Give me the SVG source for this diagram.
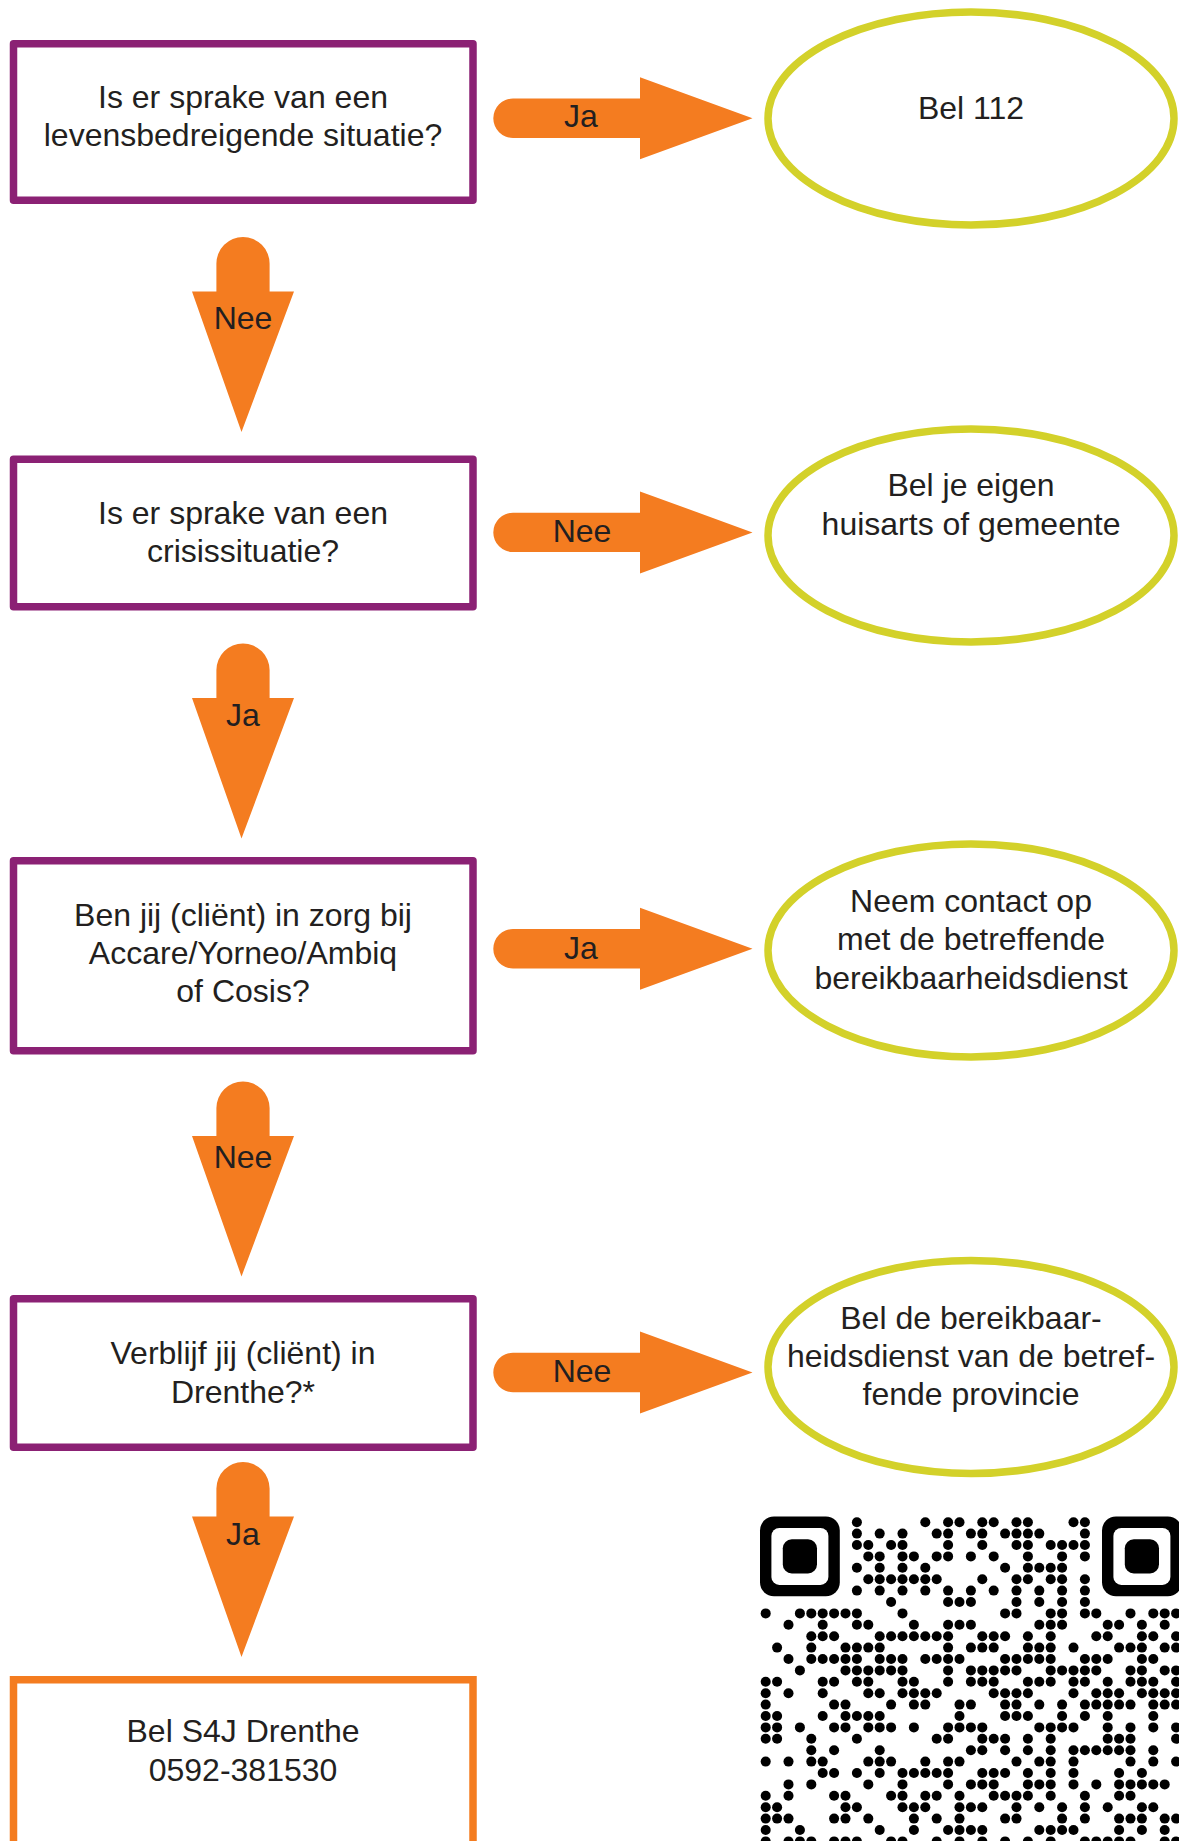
<svg xmlns="http://www.w3.org/2000/svg" xmlns:xlink="http://www.w3.org/1999/xlink" width="1179" height="1841" viewBox="0 0 1179 1841">
<style>
text{font-family:"Liberation Sans",Arial,sans-serif;font-size:32px;fill:#231f20;text-anchor:middle}
.box{fill:#fff;stroke:#8b2174;stroke-width:7.5;stroke-linejoin:round}
.end{fill:#fff;stroke:#f47c20;stroke-width:7.5}
.ell{fill:#fff;stroke:#d3d12a;stroke-width:7.5}
.arr{fill:#f47c20}
</style>
<defs>
<path id="ha" class="arr" d="M640,-41 L752.5,0 L640,41 V19.7 H513 A19.7,19.7 0 0 1 513,-19.7 H640 Z"/>
<path id="va" class="arr" d="M-51,54.5 H-26.6 V26.6 A26.6,26.6 0 0 1 26.6,26.6 V54.5 H51 L-1.5,195 Z"/>
</defs>
<rect width="1179" height="1841" fill="#fff"/>

<g id="connectors">
<use href="#ha" y="118.3"/>
<use href="#ha" y="532.4"/>
<use href="#ha" y="948.8"/>
<use href="#ha" y="1372.5"/>
<use href="#va" x="243" y="237"/>
<use href="#va" x="243" y="643.5"/>
<use href="#va" x="243" y="1081.5"/>
<use href="#va" x="243" y="1462"/>
<text x="581" y="127">Ja</text>
<text x="582" y="542">Nee</text>
<text x="581" y="959">Ja</text>
<text x="582" y="1382">Nee</text>
<text x="243" y="328.5">Nee</text>
<text x="243" y="726">Ja</text>
<text x="243" y="1168">Nee</text>
<text x="243" y="1545">Ja</text>
</g>

<g id="q1">
<rect class="box" x="13.5" y="43.75" width="459.5" height="156.5"/>
<text><tspan x="243" y="108.3">Is er sprake van een</tspan><tspan x="243" y="146">levensbedreigende situatie?</tspan></text>
</g>
<g id="q2">
<rect class="box" x="13.5" y="459.25" width="459.5" height="147.5"/>
<text><tspan x="243" y="524">Is er sprake van een</tspan><tspan x="243" y="562">crisissituatie?</tspan></text>
</g>
<g id="q3">
<rect class="box" x="13.5" y="860.75" width="459.5" height="190"/>
<text><tspan x="243" y="925.5">Ben jij (cliënt) in zorg bij</tspan><tspan x="243" y="963.5">Accare/Yorneo/Ambiq</tspan><tspan x="243" y="1001.5">of Cosis?</tspan></text>
</g>
<g id="q4">
<rect class="box" x="13.5" y="1298.75" width="459.5" height="148.5"/>
<text><tspan x="243" y="1364">Verblijf jij (cliënt) in</tspan><tspan x="243" y="1402.5">Drenthe?*</tspan></text>
</g>
<g id="s4j">
<rect class="end" x="13.5" y="1679.75" width="459.5" height="300"/>
<text><tspan x="243" y="1741.5">Bel S4J Drenthe</tspan><tspan x="243" y="1780.5">0592-381530</tspan></text>
</g>

<g id="e1">
<ellipse class="ell" cx="971" cy="118.5" rx="203" ry="106.5"/>
<text x="971" y="119">Bel 112</text>
</g>
<g id="e2">
<ellipse class="ell" cx="971" cy="535.5" rx="203" ry="106.5"/>
<text><tspan x="971" y="496">Bel je eigen</tspan><tspan x="971" y="534.5">huisarts of gemeente</tspan></text>
</g>
<g id="e3">
<ellipse class="ell" cx="971" cy="950.5" rx="203" ry="106.5"/>
<text><tspan x="971" y="912">Neem contact op</tspan><tspan x="971" y="950">met de betreffende</tspan><tspan x="971" y="988.5">bereikbaarheidsdienst</tspan></text>
</g>
<g id="e4">
<ellipse class="ell" cx="971" cy="1367" rx="203" ry="106.5"/>
<text><tspan x="971" y="1328.5">Bel de bereikbaar-</tspan><tspan x="971" y="1367">heidsdienst van de betref-</tspan><tspan x="971" y="1405">fende provincie</tspan></text>
</g>

<g id="qr">
<rect x="760" y="1516.5" width="79.8" height="79.8" rx="14" fill="#000"/>
<rect x="771.4" y="1527.9" width="57" height="57" rx="8" fill="#fff"/>
<rect x="782.8" y="1539.3" width="34.2" height="34.2" rx="9" fill="#000"/>
<rect x="1102" y="1516.5" width="79.8" height="79.8" rx="14" fill="#000"/>
<rect x="1113.4" y="1527.9" width="57" height="57" rx="8" fill="#fff"/>
<rect x="1124.8" y="1539.3" width="34.2" height="34.2" rx="9" fill="#000"/>
<g transform="translate(765.7,1522.2) scale(11.4)" fill="#000">
<circle cx="8" cy="0" r=".44"/><circle cx="14" cy="0" r=".44"/><circle cx="16" cy="0" r=".44"/><circle cx="17" cy="0" r=".44"/><circle cx="19" cy="0" r=".44"/><circle cx="20" cy="0" r=".44"/><circle cx="22" cy="0" r=".44"/><circle cx="23" cy="0" r=".44"/><circle cx="27" cy="0" r=".44"/><circle cx="28" cy="0" r=".44"/>
<circle cx="8" cy="1" r=".44"/><circle cx="10" cy="1" r=".44"/><circle cx="12" cy="1" r=".44"/><circle cx="15" cy="1" r=".44"/><circle cx="16" cy="1" r=".44"/><circle cx="18" cy="1" r=".44"/><circle cx="19" cy="1" r=".44"/><circle cx="21" cy="1" r=".44"/><circle cx="22" cy="1" r=".44"/><circle cx="23" cy="1" r=".44"/><circle cx="24" cy="1" r=".44"/><circle cx="28" cy="1" r=".44"/>
<circle cx="8" cy="2" r=".44"/><circle cx="9" cy="2" r=".44"/><circle cx="11" cy="2" r=".44"/><circle cx="12" cy="2" r=".44"/><circle cx="16" cy="2" r=".44"/><circle cx="19" cy="2" r=".44"/><circle cx="22" cy="2" r=".44"/><circle cx="23" cy="2" r=".44"/><circle cx="25" cy="2" r=".44"/><circle cx="26" cy="2" r=".44"/><circle cx="27" cy="2" r=".44"/><circle cx="28" cy="2" r=".44"/>
<circle cx="9" cy="3" r=".44"/><circle cx="10" cy="3" r=".44"/><circle cx="12" cy="3" r=".44"/><circle cx="13" cy="3" r=".44"/><circle cx="15" cy="3" r=".44"/><circle cx="16" cy="3" r=".44"/><circle cx="18" cy="3" r=".44"/><circle cx="20" cy="3" r=".44"/><circle cx="23" cy="3" r=".44"/><circle cx="26" cy="3" r=".44"/><circle cx="28" cy="3" r=".44"/>
<circle cx="8" cy="4" r=".44"/><circle cx="10" cy="4" r=".44"/><circle cx="12" cy="4" r=".44"/><circle cx="14" cy="4" r=".44"/><circle cx="21" cy="4" r=".44"/><circle cx="23" cy="4" r=".44"/><circle cx="24" cy="4" r=".44"/><circle cx="25" cy="4" r=".44"/><circle cx="26" cy="4" r=".44"/>
<circle cx="9" cy="5" r=".44"/><circle cx="10" cy="5" r=".44"/><circle cx="11" cy="5" r=".44"/><circle cx="12" cy="5" r=".44"/><circle cx="13" cy="5" r=".44"/><circle cx="14" cy="5" r=".44"/><circle cx="15" cy="5" r=".44"/><circle cx="19" cy="5" r=".44"/><circle cx="22" cy="5" r=".44"/><circle cx="23" cy="5" r=".44"/><circle cx="25" cy="5" r=".44"/><circle cx="26" cy="5" r=".44"/><circle cx="28" cy="5" r=".44"/>
<circle cx="8" cy="6" r=".44"/><circle cx="10" cy="6" r=".44"/><circle cx="12" cy="6" r=".44"/><circle cx="14" cy="6" r=".44"/><circle cx="16" cy="6" r=".44"/><circle cx="18" cy="6" r=".44"/><circle cx="20" cy="6" r=".44"/><circle cx="22" cy="6" r=".44"/><circle cx="24" cy="6" r=".44"/><circle cx="26" cy="6" r=".44"/><circle cx="28" cy="6" r=".44"/>
<circle cx="11" cy="7" r=".44"/><circle cx="16" cy="7" r=".44"/><circle cx="17" cy="7" r=".44"/><circle cx="18" cy="7" r=".44"/><circle cx="22" cy="7" r=".44"/><circle cx="24" cy="7" r=".44"/><circle cx="26" cy="7" r=".44"/><circle cx="28" cy="7" r=".44"/>
<circle cx="0" cy="8" r=".44"/><circle cx="3" cy="8" r=".44"/><circle cx="4" cy="8" r=".44"/><circle cx="5" cy="8" r=".44"/><circle cx="6" cy="8" r=".44"/><circle cx="7" cy="8" r=".44"/><circle cx="8" cy="8" r=".44"/><circle cx="12" cy="8" r=".44"/><circle cx="21" cy="8" r=".44"/><circle cx="22" cy="8" r=".44"/><circle cx="25" cy="8" r=".44"/><circle cx="26" cy="8" r=".44"/><circle cx="28" cy="8" r=".44"/><circle cx="29" cy="8" r=".44"/><circle cx="32" cy="8" r=".44"/><circle cx="34" cy="8" r=".44"/><circle cx="35" cy="8" r=".44"/><circle cx="36" cy="8" r=".44"/>
<circle cx="2" cy="9" r=".44"/><circle cx="5" cy="9" r=".44"/><circle cx="8" cy="9" r=".44"/><circle cx="9" cy="9" r=".44"/><circle cx="13" cy="9" r=".44"/><circle cx="16" cy="9" r=".44"/><circle cx="17" cy="9" r=".44"/><circle cx="18" cy="9" r=".44"/><circle cx="24" cy="9" r=".44"/><circle cx="25" cy="9" r=".44"/><circle cx="26" cy="9" r=".44"/><circle cx="30" cy="9" r=".44"/><circle cx="31" cy="9" r=".44"/><circle cx="33" cy="9" r=".44"/><circle cx="35" cy="9" r=".44"/>
<circle cx="4" cy="10" r=".44"/><circle cx="5" cy="10" r=".44"/><circle cx="6" cy="10" r=".44"/><circle cx="10" cy="10" r=".44"/><circle cx="11" cy="10" r=".44"/><circle cx="12" cy="10" r=".44"/><circle cx="13" cy="10" r=".44"/><circle cx="14" cy="10" r=".44"/><circle cx="15" cy="10" r=".44"/><circle cx="16" cy="10" r=".44"/><circle cx="19" cy="10" r=".44"/><circle cx="20" cy="10" r=".44"/><circle cx="21" cy="10" r=".44"/><circle cx="23" cy="10" r=".44"/><circle cx="25" cy="10" r=".44"/><circle cx="29" cy="10" r=".44"/><circle cx="30" cy="10" r=".44"/><circle cx="33" cy="10" r=".44"/><circle cx="34" cy="10" r=".44"/><circle cx="36" cy="10" r=".44"/>
<circle cx="1" cy="11" r=".44"/><circle cx="4" cy="11" r=".44"/><circle cx="7" cy="11" r=".44"/><circle cx="8" cy="11" r=".44"/><circle cx="9" cy="11" r=".44"/><circle cx="10" cy="11" r=".44"/><circle cx="16" cy="11" r=".44"/><circle cx="18" cy="11" r=".44"/><circle cx="19" cy="11" r=".44"/><circle cx="20" cy="11" r=".44"/><circle cx="23" cy="11" r=".44"/><circle cx="24" cy="11" r=".44"/><circle cx="25" cy="11" r=".44"/><circle cx="27" cy="11" r=".44"/><circle cx="31" cy="11" r=".44"/><circle cx="32" cy="11" r=".44"/><circle cx="33" cy="11" r=".44"/><circle cx="35" cy="11" r=".44"/><circle cx="36" cy="11" r=".44"/>
<circle cx="2" cy="12" r=".44"/><circle cx="4" cy="12" r=".44"/><circle cx="5" cy="12" r=".44"/><circle cx="6" cy="12" r=".44"/><circle cx="7" cy="12" r=".44"/><circle cx="8" cy="12" r=".44"/><circle cx="10" cy="12" r=".44"/><circle cx="11" cy="12" r=".44"/><circle cx="12" cy="12" r=".44"/><circle cx="14" cy="12" r=".44"/><circle cx="15" cy="12" r=".44"/><circle cx="16" cy="12" r=".44"/><circle cx="17" cy="12" r=".44"/><circle cx="21" cy="12" r=".44"/><circle cx="22" cy="12" r=".44"/><circle cx="23" cy="12" r=".44"/><circle cx="24" cy="12" r=".44"/><circle cx="25" cy="12" r=".44"/><circle cx="28" cy="12" r=".44"/><circle cx="29" cy="12" r=".44"/><circle cx="30" cy="12" r=".44"/><circle cx="33" cy="12" r=".44"/><circle cx="34" cy="12" r=".44"/>
<circle cx="3" cy="13" r=".44"/><circle cx="7" cy="13" r=".44"/><circle cx="8" cy="13" r=".44"/><circle cx="9" cy="13" r=".44"/><circle cx="10" cy="13" r=".44"/><circle cx="11" cy="13" r=".44"/><circle cx="12" cy="13" r=".44"/><circle cx="16" cy="13" r=".44"/><circle cx="18" cy="13" r=".44"/><circle cx="19" cy="13" r=".44"/><circle cx="20" cy="13" r=".44"/><circle cx="21" cy="13" r=".44"/><circle cx="22" cy="13" r=".44"/><circle cx="25" cy="13" r=".44"/><circle cx="26" cy="13" r=".44"/><circle cx="27" cy="13" r=".44"/><circle cx="28" cy="13" r=".44"/><circle cx="29" cy="13" r=".44"/><circle cx="32" cy="13" r=".44"/><circle cx="33" cy="13" r=".44"/><circle cx="35" cy="13" r=".44"/><circle cx="36" cy="13" r=".44"/>
<circle cx="0" cy="14" r=".44"/><circle cx="1" cy="14" r=".44"/><circle cx="5" cy="14" r=".44"/><circle cx="6" cy="14" r=".44"/><circle cx="8" cy="14" r=".44"/><circle cx="9" cy="14" r=".44"/><circle cx="12" cy="14" r=".44"/><circle cx="13" cy="14" r=".44"/><circle cx="16" cy="14" r=".44"/><circle cx="18" cy="14" r=".44"/><circle cx="19" cy="14" r=".44"/><circle cx="20" cy="14" r=".44"/><circle cx="23" cy="14" r=".44"/><circle cx="24" cy="14" r=".44"/><circle cx="25" cy="14" r=".44"/><circle cx="27" cy="14" r=".44"/><circle cx="28" cy="14" r=".44"/><circle cx="30" cy="14" r=".44"/><circle cx="32" cy="14" r=".44"/><circle cx="33" cy="14" r=".44"/><circle cx="34" cy="14" r=".44"/><circle cx="36" cy="14" r=".44"/>
<circle cx="0" cy="15" r=".44"/><circle cx="2" cy="15" r=".44"/><circle cx="5" cy="15" r=".44"/><circle cx="9" cy="15" r=".44"/><circle cx="10" cy="15" r=".44"/><circle cx="12" cy="15" r=".44"/><circle cx="13" cy="15" r=".44"/><circle cx="14" cy="15" r=".44"/><circle cx="15" cy="15" r=".44"/><circle cx="20" cy="15" r=".44"/><circle cx="21" cy="15" r=".44"/><circle cx="22" cy="15" r=".44"/><circle cx="23" cy="15" r=".44"/><circle cx="27" cy="15" r=".44"/><circle cx="29" cy="15" r=".44"/><circle cx="30" cy="15" r=".44"/><circle cx="31" cy="15" r=".44"/><circle cx="33" cy="15" r=".44"/><circle cx="34" cy="15" r=".44"/><circle cx="35" cy="15" r=".44"/><circle cx="36" cy="15" r=".44"/>
<circle cx="0" cy="16" r=".44"/><circle cx="6" cy="16" r=".44"/><circle cx="7" cy="16" r=".44"/><circle cx="11" cy="16" r=".44"/><circle cx="13" cy="16" r=".44"/><circle cx="14" cy="16" r=".44"/><circle cx="17" cy="16" r=".44"/><circle cx="18" cy="16" r=".44"/><circle cx="21" cy="16" r=".44"/><circle cx="22" cy="16" r=".44"/><circle cx="24" cy="16" r=".44"/><circle cx="26" cy="16" r=".44"/><circle cx="28" cy="16" r=".44"/><circle cx="29" cy="16" r=".44"/><circle cx="30" cy="16" r=".44"/><circle cx="31" cy="16" r=".44"/><circle cx="32" cy="16" r=".44"/><circle cx="34" cy="16" r=".44"/><circle cx="35" cy="16" r=".44"/><circle cx="36" cy="16" r=".44"/>
<circle cx="0" cy="17" r=".44"/><circle cx="1" cy="17" r=".44"/><circle cx="5" cy="17" r=".44"/><circle cx="7" cy="17" r=".44"/><circle cx="8" cy="17" r=".44"/><circle cx="9" cy="17" r=".44"/><circle cx="10" cy="17" r=".44"/><circle cx="17" cy="17" r=".44"/><circle cx="21" cy="17" r=".44"/><circle cx="22" cy="17" r=".44"/><circle cx="23" cy="17" r=".44"/><circle cx="26" cy="17" r=".44"/><circle cx="28" cy="17" r=".44"/><circle cx="30" cy="17" r=".44"/><circle cx="34" cy="17" r=".44"/>
<circle cx="0" cy="18" r=".44"/><circle cx="1" cy="18" r=".44"/><circle cx="3" cy="18" r=".44"/><circle cx="6" cy="18" r=".44"/><circle cx="7" cy="18" r=".44"/><circle cx="9" cy="18" r=".44"/><circle cx="10" cy="18" r=".44"/><circle cx="11" cy="18" r=".44"/><circle cx="13" cy="18" r=".44"/><circle cx="16" cy="18" r=".44"/><circle cx="17" cy="18" r=".44"/><circle cx="18" cy="18" r=".44"/><circle cx="19" cy="18" r=".44"/><circle cx="24" cy="18" r=".44"/><circle cx="25" cy="18" r=".44"/><circle cx="26" cy="18" r=".44"/><circle cx="27" cy="18" r=".44"/><circle cx="30" cy="18" r=".44"/><circle cx="32" cy="18" r=".44"/><circle cx="34" cy="18" r=".44"/><circle cx="36" cy="18" r=".44"/>
<circle cx="0" cy="19" r=".44"/><circle cx="1" cy="19" r=".44"/><circle cx="4" cy="19" r=".44"/><circle cx="8" cy="19" r=".44"/><circle cx="15" cy="19" r=".44"/><circle cx="16" cy="19" r=".44"/><circle cx="19" cy="19" r=".44"/><circle cx="20" cy="19" r=".44"/><circle cx="21" cy="19" r=".44"/><circle cx="23" cy="19" r=".44"/><circle cx="25" cy="19" r=".44"/><circle cx="30" cy="19" r=".44"/><circle cx="31" cy="19" r=".44"/><circle cx="32" cy="19" r=".44"/><circle cx="36" cy="19" r=".44"/>
<circle cx="4" cy="20" r=".44"/><circle cx="6" cy="20" r=".44"/><circle cx="10" cy="20" r=".44"/><circle cx="18" cy="20" r=".44"/><circle cx="19" cy="20" r=".44"/><circle cx="21" cy="20" r=".44"/><circle cx="23" cy="20" r=".44"/><circle cx="25" cy="20" r=".44"/><circle cx="27" cy="20" r=".44"/><circle cx="28" cy="20" r=".44"/><circle cx="29" cy="20" r=".44"/><circle cx="30" cy="20" r=".44"/><circle cx="31" cy="20" r=".44"/><circle cx="32" cy="20" r=".44"/><circle cx="34" cy="20" r=".44"/>
<circle cx="0" cy="21" r=".44"/><circle cx="2" cy="21" r=".44"/><circle cx="4" cy="21" r=".44"/><circle cx="5" cy="21" r=".44"/><circle cx="9" cy="21" r=".44"/><circle cx="10" cy="21" r=".44"/><circle cx="11" cy="21" r=".44"/><circle cx="14" cy="21" r=".44"/><circle cx="16" cy="21" r=".44"/><circle cx="17" cy="21" r=".44"/><circle cx="22" cy="21" r=".44"/><circle cx="24" cy="21" r=".44"/><circle cx="25" cy="21" r=".44"/><circle cx="27" cy="21" r=".44"/><circle cx="32" cy="21" r=".44"/><circle cx="34" cy="21" r=".44"/><circle cx="36" cy="21" r=".44"/>
<circle cx="5" cy="22" r=".44"/><circle cx="6" cy="22" r=".44"/><circle cx="8" cy="22" r=".44"/><circle cx="10" cy="22" r=".44"/><circle cx="12" cy="22" r=".44"/><circle cx="13" cy="22" r=".44"/><circle cx="14" cy="22" r=".44"/><circle cx="15" cy="22" r=".44"/><circle cx="16" cy="22" r=".44"/><circle cx="19" cy="22" r=".44"/><circle cx="20" cy="22" r=".44"/><circle cx="21" cy="22" r=".44"/><circle cx="23" cy="22" r=".44"/><circle cx="25" cy="22" r=".44"/><circle cx="27" cy="22" r=".44"/><circle cx="31" cy="22" r=".44"/><circle cx="33" cy="22" r=".44"/>
<circle cx="2" cy="23" r=".44"/><circle cx="4" cy="23" r=".44"/><circle cx="9" cy="23" r=".44"/><circle cx="12" cy="23" r=".44"/><circle cx="16" cy="23" r=".44"/><circle cx="18" cy="23" r=".44"/><circle cx="19" cy="23" r=".44"/><circle cx="20" cy="23" r=".44"/><circle cx="23" cy="23" r=".44"/><circle cx="24" cy="23" r=".44"/><circle cx="25" cy="23" r=".44"/><circle cx="27" cy="23" r=".44"/><circle cx="29" cy="23" r=".44"/><circle cx="31" cy="23" r=".44"/><circle cx="32" cy="23" r=".44"/><circle cx="33" cy="23" r=".44"/><circle cx="34" cy="23" r=".44"/><circle cx="35" cy="23" r=".44"/>
<circle cx="0" cy="24" r=".44"/><circle cx="2" cy="24" r=".44"/><circle cx="6" cy="24" r=".44"/><circle cx="7" cy="24" r=".44"/><circle cx="11" cy="24" r=".44"/><circle cx="12" cy="24" r=".44"/><circle cx="14" cy="24" r=".44"/><circle cx="15" cy="24" r=".44"/><circle cx="17" cy="24" r=".44"/><circle cx="20" cy="24" r=".44"/><circle cx="21" cy="24" r=".44"/><circle cx="22" cy="24" r=".44"/><circle cx="23" cy="24" r=".44"/><circle cx="25" cy="24" r=".44"/><circle cx="28" cy="24" r=".44"/><circle cx="31" cy="24" r=".44"/><circle cx="32" cy="24" r=".44"/>
<circle cx="0" cy="25" r=".44"/><circle cx="1" cy="25" r=".44"/><circle cx="7" cy="25" r=".44"/><circle cx="8" cy="25" r=".44"/><circle cx="12" cy="25" r=".44"/><circle cx="13" cy="25" r=".44"/><circle cx="14" cy="25" r=".44"/><circle cx="17" cy="25" r=".44"/><circle cx="18" cy="25" r=".44"/><circle cx="19" cy="25" r=".44"/><circle cx="22" cy="25" r=".44"/><circle cx="24" cy="25" r=".44"/><circle cx="26" cy="25" r=".44"/><circle cx="28" cy="25" r=".44"/><circle cx="30" cy="25" r=".44"/><circle cx="33" cy="25" r=".44"/><circle cx="34" cy="25" r=".44"/>
<circle cx="0" cy="26" r=".44"/><circle cx="1" cy="26" r=".44"/><circle cx="2" cy="26" r=".44"/><circle cx="6" cy="26" r=".44"/><circle cx="7" cy="26" r=".44"/><circle cx="9" cy="26" r=".44"/><circle cx="13" cy="26" r=".44"/><circle cx="15" cy="26" r=".44"/><circle cx="17" cy="26" r=".44"/><circle cx="21" cy="26" r=".44"/><circle cx="22" cy="26" r=".44"/><circle cx="26" cy="26" r=".44"/><circle cx="28" cy="26" r=".44"/><circle cx="31" cy="26" r=".44"/><circle cx="32" cy="26" r=".44"/><circle cx="33" cy="26" r=".44"/><circle cx="35" cy="26" r=".44"/><circle cx="36" cy="26" r=".44"/>
<circle cx="0" cy="27" r=".44"/><circle cx="3" cy="27" r=".44"/><circle cx="10" cy="27" r=".44"/><circle cx="13" cy="27" r=".44"/><circle cx="16" cy="27" r=".44"/><circle cx="17" cy="27" r=".44"/><circle cx="18" cy="27" r=".44"/><circle cx="19" cy="27" r=".44"/><circle cx="24" cy="27" r=".44"/><circle cx="25" cy="27" r=".44"/><circle cx="26" cy="27" r=".44"/><circle cx="27" cy="27" r=".44"/><circle cx="31" cy="27" r=".44"/><circle cx="33" cy="27" r=".44"/><circle cx="35" cy="27" r=".44"/>
<circle cx="0" cy="28" r=".44"/><circle cx="2" cy="28" r=".44"/><circle cx="3" cy="28" r=".44"/><circle cx="4" cy="28" r=".44"/><circle cx="6" cy="28" r=".44"/><circle cx="7" cy="28" r=".44"/><circle cx="8" cy="28" r=".44"/><circle cx="11" cy="28" r=".44"/><circle cx="12" cy="28" r=".44"/><circle cx="15" cy="28" r=".44"/><circle cx="17" cy="28" r=".44"/><circle cx="19" cy="28" r=".44"/><circle cx="21" cy="28" r=".44"/><circle cx="23" cy="28" r=".44"/><circle cx="25" cy="28" r=".44"/><circle cx="28" cy="28" r=".44"/><circle cx="29" cy="28" r=".44"/><circle cx="30" cy="28" r=".44"/><circle cx="31" cy="28" r=".44"/><circle cx="32" cy="28" r=".44"/><circle cx="35" cy="28" r=".44"/><circle cx="36" cy="28" r=".44"/>
</g>
</g>
</svg>
